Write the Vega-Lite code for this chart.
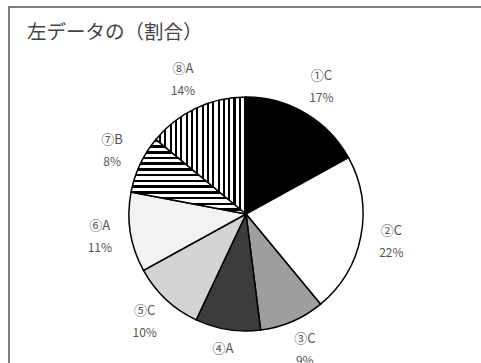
{
  "$schema": "https://vega.github.io/schema/vega-lite/v6.json",
  "width": 474,
  "height": 414,
  "autosize": {"type": "none"},
  "padding": {"left": 9, "top": 7, "right": -2, "bottom": -58},
  "background": "white",
  "view": {"stroke": "#555", "strokeWidth": 1.5, "fill": "white"},
  "title": {
    "text": "左データの（割合）",
    "orient": "top",
    "anchor": "start",
    "frame": "group",
    "offset": -36,
    "dx": 18,
    "font": "Noto Sans CJK JP",
    "fontSize": 19.5,
    "fontWeight": "normal",
    "color": "#444"
  },
  "data": {
    "values": [
      {"id": 1, "name": "①C", "pct": "17%", "value": 17},
      {"id": 2, "name": "②C", "pct": "22%", "value": 22},
      {"id": 3, "name": "③C", "pct": "9%", "value": 9},
      {"id": 4, "name": "④A", "pct": "9%", "value": 9},
      {"id": 5, "name": "⑤C", "pct": "10%", "value": 10},
      {"id": 6, "name": "⑥A", "pct": "11%", "value": 11},
      {"id": 7, "name": "⑦B", "pct": "8%", "value": 8},
      {"id": 8, "name": "⑧A", "pct": "14%", "value": 14}
    ]
  },
  "encoding": {
    "theta": {"field": "value", "type": "quantitative", "stack": true},
    "order": {"field": "id", "type": "quantitative"}
  },
  "layer": [
    {
      "mark": {"type": "arc", "outerRadius": 117, "stroke": "#000", "strokeWidth": 1.5},
      "encoding": {
        "color": {
          "condition": [
            {"test": "datum.id === 7", "value": {"gradient": "linear", "x1": 0, "y1": 0, "x2": 0, "y2": 1, "stops": [
                {"offset": 0.0, "color": "#000"}, {"offset": 0.035, "color": "#000"}, {"offset": 0.035, "color": "#fff"}, {"offset": 0.077, "color": "#fff"},
                {"offset": 0.077, "color": "#000"}, {"offset": 0.112, "color": "#000"}, {"offset": 0.112, "color": "#fff"}, {"offset": 0.154, "color": "#fff"},
                {"offset": 0.154, "color": "#000"}, {"offset": 0.189, "color": "#000"}, {"offset": 0.189, "color": "#fff"}, {"offset": 0.231, "color": "#fff"},
                {"offset": 0.231, "color": "#000"}, {"offset": 0.266, "color": "#000"}, {"offset": 0.266, "color": "#fff"}, {"offset": 0.308, "color": "#fff"},
                {"offset": 0.308, "color": "#000"}, {"offset": 0.343, "color": "#000"}, {"offset": 0.343, "color": "#fff"}, {"offset": 0.385, "color": "#fff"},
                {"offset": 0.385, "color": "#000"}, {"offset": 0.420, "color": "#000"}, {"offset": 0.420, "color": "#fff"}, {"offset": 0.462, "color": "#fff"},
                {"offset": 0.462, "color": "#000"}, {"offset": 0.497, "color": "#000"}, {"offset": 0.497, "color": "#fff"}, {"offset": 0.539, "color": "#fff"},
                {"offset": 0.539, "color": "#000"}, {"offset": 0.574, "color": "#000"}, {"offset": 0.574, "color": "#fff"}, {"offset": 0.616, "color": "#fff"},
                {"offset": 0.616, "color": "#000"}, {"offset": 0.651, "color": "#000"}, {"offset": 0.651, "color": "#fff"}, {"offset": 0.693, "color": "#fff"},
                {"offset": 0.693, "color": "#000"}, {"offset": 0.728, "color": "#000"}, {"offset": 0.728, "color": "#fff"}, {"offset": 0.770, "color": "#fff"},
                {"offset": 0.770, "color": "#000"}, {"offset": 0.805, "color": "#000"}, {"offset": 0.805, "color": "#fff"}, {"offset": 0.847, "color": "#fff"},
                {"offset": 0.847, "color": "#000"}, {"offset": 0.882, "color": "#000"}, {"offset": 0.882, "color": "#fff"}, {"offset": 0.924, "color": "#fff"},
                {"offset": 0.924, "color": "#000"}, {"offset": 0.959, "color": "#000"}, {"offset": 0.959, "color": "#fff"}, {"offset": 1.0, "color": "#fff"}
              ]}},
            {"test": "datum.id === 8", "value": {"gradient": "linear", "x1": 0, "y1": 0, "x2": 1, "y2": 0, "stops": [
                {"offset": 0.0, "color": "#fff"}, {"offset": 0.035, "color": "#fff"}, {"offset": 0.035, "color": "#000"}, {"offset": 0.059, "color": "#000"},
                {"offset": 0.059, "color": "#fff"}, {"offset": 0.094, "color": "#fff"}, {"offset": 0.094, "color": "#000"}, {"offset": 0.118, "color": "#000"},
                {"offset": 0.118, "color": "#fff"}, {"offset": 0.153, "color": "#fff"}, {"offset": 0.153, "color": "#000"}, {"offset": 0.177, "color": "#000"},
                {"offset": 0.177, "color": "#fff"}, {"offset": 0.212, "color": "#fff"}, {"offset": 0.212, "color": "#000"}, {"offset": 0.236, "color": "#000"},
                {"offset": 0.236, "color": "#fff"}, {"offset": 0.271, "color": "#fff"}, {"offset": 0.271, "color": "#000"}, {"offset": 0.295, "color": "#000"},
                {"offset": 0.295, "color": "#fff"}, {"offset": 0.330, "color": "#fff"}, {"offset": 0.330, "color": "#000"}, {"offset": 0.354, "color": "#000"},
                {"offset": 0.354, "color": "#fff"}, {"offset": 0.389, "color": "#fff"}, {"offset": 0.389, "color": "#000"}, {"offset": 0.413, "color": "#000"},
                {"offset": 0.413, "color": "#fff"}, {"offset": 0.448, "color": "#fff"}, {"offset": 0.448, "color": "#000"}, {"offset": 0.472, "color": "#000"},
                {"offset": 0.472, "color": "#fff"}, {"offset": 0.507, "color": "#fff"}, {"offset": 0.507, "color": "#000"}, {"offset": 0.531, "color": "#000"},
                {"offset": 0.531, "color": "#fff"}, {"offset": 0.566, "color": "#fff"}, {"offset": 0.566, "color": "#000"}, {"offset": 0.590, "color": "#000"},
                {"offset": 0.590, "color": "#fff"}, {"offset": 0.625, "color": "#fff"}, {"offset": 0.625, "color": "#000"}, {"offset": 0.649, "color": "#000"},
                {"offset": 0.649, "color": "#fff"}, {"offset": 0.684, "color": "#fff"}, {"offset": 0.684, "color": "#000"}, {"offset": 0.708, "color": "#000"},
                {"offset": 0.708, "color": "#fff"}, {"offset": 0.743, "color": "#fff"}, {"offset": 0.743, "color": "#000"}, {"offset": 0.767, "color": "#000"},
                {"offset": 0.767, "color": "#fff"}, {"offset": 0.802, "color": "#fff"}, {"offset": 0.802, "color": "#000"}, {"offset": 0.826, "color": "#000"},
                {"offset": 0.826, "color": "#fff"}, {"offset": 0.861, "color": "#fff"}, {"offset": 0.861, "color": "#000"}, {"offset": 0.885, "color": "#000"},
                {"offset": 0.885, "color": "#fff"}, {"offset": 0.920, "color": "#fff"}, {"offset": 0.920, "color": "#000"}, {"offset": 0.944, "color": "#000"},
                {"offset": 0.944, "color": "#fff"}, {"offset": 0.979, "color": "#fff"}, {"offset": 0.979, "color": "#000"}, {"offset": 1.0, "color": "#000"}
              ]}}
          ],
          "field": "id",
          "type": "nominal",
          "legend": null,
          "scale": {
            "domain": [1, 2, 3, 4, 5, 6, 7, 8],
            "range": ["#000000", "#ffffff", "#9e9e9e", "#3c3c3c", "#d4d4d4", "#f2f2f2", "#777777", "#777777"]
          }
        }
      }
    },
    {
      "mark": {"type": "text", "radius": 148, "dy": -11, "font": "Noto Sans CJK JP", "fontSize": 13, "color": "#555"},
      "encoding": {"text": {"field": "name", "type": "nominal"}}
    },
    {
      "mark": {"type": "text", "radius": 148, "dy": 11, "font": "Noto Sans CJK JP", "fontSize": 12, "color": "#555"},
      "encoding": {"text": {"field": "pct", "type": "nominal"}}
    }
  ]
}
